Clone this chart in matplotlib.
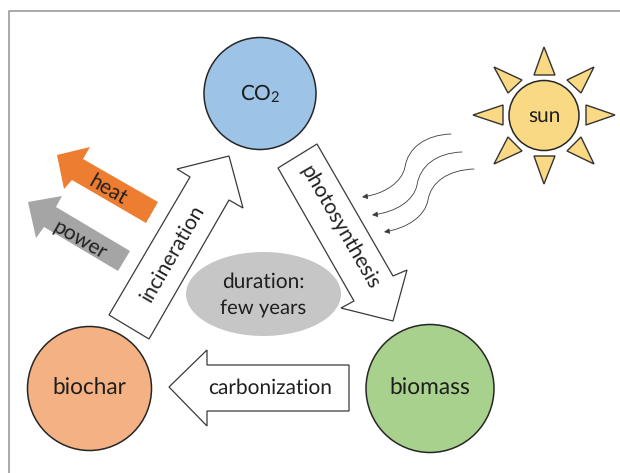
import matplotlib
matplotlib.use("Agg")
import matplotlib.pyplot as plt
from matplotlib.patches import Polygon, Ellipse, FancyArrowPatch
from matplotlib.path import Path

plt.rcParams['font.family'] = ['Lato', 'DejaVu Sans']
plt.rcParams['mathtext.default'] = 'regular'
plt.rcParams['text.hinting'] = 'none'

# circles: label, centre x, centre y, radius, colour
circle_labels = ['CO$_2$', 'biochar', 'biomass', 'sun']
circle_x = [260, 89.5, 430, 544]
circle_y = [93.5, 388.5, 388.5, 115.5]
circle_r = [56, 62, 64, 35]
circle_colors = ['#9dc3e6', '#f4b183', '#a9d18e', '#f9d983']
circle_sizes = [15, 16.3, 16.4, 15]

# big arrows, outlines in picture pixels
incineration = [(229, 156), (243, 208), (229, 200), (149, 339), (109, 315), (190, 177), (177, 169)]
photosynthesis = [(278, 168), (317, 144), (393, 276), (407, 270), (393, 321), (341, 308), (354, 301)]
carbonization = [(169, 387), (207, 350), (207, 365), (349, 365), (349, 411), (207, 411), (207, 426)]
heat = [(57, 155), (90, 147), (83, 159), (158, 202), (146, 223), (72, 180), (64, 189)]
power = [(28, 202), (62, 196), (56, 207), (130, 251), (118, 271), (44, 227), (36, 238)]

# sun rays
rays = [
    [(544, 47), (534, 75), (555, 75)],
    [(544, 184), (534, 156), (555, 156)],
    [(473, 115), (503, 105), (503, 125)],
    [(615, 115), (586, 105), (586, 125)],
    [(494, 67), (522, 80), (508, 93)],
    [(594, 67), (567, 80), (581, 93)],
    [(494, 164), (508, 137), (522, 151)],
    [(594, 164), (581, 137), (567, 151)],
]

# wavy sun beams: start, controls, middle, controls, end
beams = [
    [(451, 134), (425, 135), (408, 148), (405, 167), (402, 182), (385, 194), (362, 197)],
    [(462, 152), (436, 153), (420, 166), (417, 185), (414, 200), (397, 212), (372, 215)],
    [(474, 169), (448, 170), (431, 182), (428, 200), (425, 216), (408, 228), (384, 232)],
]

frame_x = [8.5, 8.5, 620]
frame_y = [473, 11, 11]

labels = ['heat', 'power', 'incineration', 'photosynthesis', 'carbonization', 'duration:', 'few years']
label_x = [108, 80, 173, 340, 270, 263, 263]
label_y = [190, 240, 253, 228, 388, 282, 308]
label_rot = [-30, -30, 60, -60, 0, 0, 0]
label_sizes = [15, 15, 15, 15, 15, 15, 14.6]

fig = plt.figure(figsize=(6.2, 4.73), dpi=100)
ax = fig.add_axes([0, 0, 1, 1])
ax.set_xlim(0, 620)
ax.set_ylim(473, 0)
ax.axis('off')

ax.plot(frame_x, frame_y, color='#a3a3a3', lw=1.3)

outline = '#3a3a3a'
for pts in [incineration, photosynthesis, carbonization]:
    ax.add_patch(Polygon(pts, closed=True, fc='white', ec=outline, lw=0.9))
ax.add_patch(Polygon(heat, closed=True, fc='#ed7d31', ec='none'))
ax.add_patch(Polygon(power, closed=True, fc='#a5a5a5', ec='none'))

ax.add_patch(Ellipse((263.5, 294), 155, 84, fc='#c6c6c6', ec='none', zorder=3))

for i in range(len(circle_labels)):
    ax.add_patch(Ellipse((circle_x[i], circle_y[i]), 2 * circle_r[i], 2 * circle_r[i],
                         fc=circle_colors[i], ec='#262626', lw=1.1, zorder=3))
    ax.text(circle_x[i], circle_y[i], circle_labels[i], fontsize=circle_sizes[i], color='#1e1e1e',
            ha='center', va='center', zorder=4)

for ray in rays:
    ax.add_patch(Polygon(ray, closed=True, fc=circle_colors[3], ec='#333333', lw=1.0))

codes = [Path.MOVETO] + [Path.CURVE4] * 6
for b in beams:
    ax.add_patch(FancyArrowPatch(path=Path(b, codes), arrowstyle='-|>', mutation_scale=8,
                                 color='#3c3c3c', lw=0.6, shrinkA=0, shrinkB=0))

for t, x, y, r, s in zip(labels, label_x, label_y, label_rot, label_sizes):
    ax.text(x, y, t, fontsize=s, color='#1e1e1e', ha='center', va='center',
            rotation=r, rotation_mode='anchor', zorder=5)

fig.savefig('out.png', dpi=100)
